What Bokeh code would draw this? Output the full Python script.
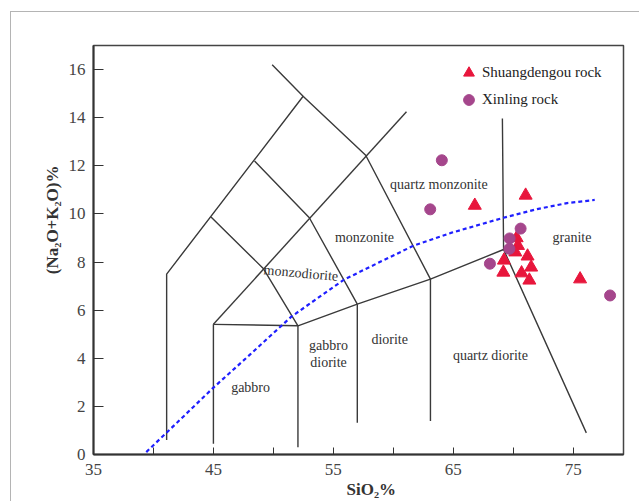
from bokeh.plotting import figure
from bokeh.models import FixedTicker, Legend, LegendItem, Title
from bokeh.core.properties import value
from bokeh.embed import file_html
from bokeh.resources import INLINE

# ---- field boundary polylines (SiO2 %, Na2O+K2O %) ----
bound_x = [
    [41.1, 41.1, 52.5],
    [49.9, 52.5, 57.7, 63.1],
    [45.0, 61.1],
    [48.43, 53.0, 57.0],
    [44.8, 49.18, 52.05],
    [45.0, 52.05],
    [45.0, 45.0],
    [52.05, 52.05],
    [52.05, 57.0, 63.1, 69.2],
    [57.0, 57.0],
    [63.1, 63.1],
    [69.1, 69.2, 76.1],
]
bound_y = [
    [0.6, 7.5, 14.9],
    [16.2, 14.88, 12.44, 7.29],
    [5.41, 14.25],
    [12.2, 9.84, 6.25],
    [9.87, 7.72, 5.35],
    [5.41, 5.35],
    [5.41, 0.45],
    [5.35, 0.3],
    [5.35, 6.25, 7.29, 8.52],
    [6.25, 1.32],
    [7.29, 1.39],
    [13.97, 8.52, 0.9],
]

# ---- alkaline / subalkaline dividing curve ----
curve_x = [39.4, 42.0, 45.0, 48.0, 51.5, 55.9, 59.0, 61.7, 64.8, 69.2, 72.0, 74.5, 76.8]
curve_y = [0.1, 1.34, 2.78, 4.13, 5.73, 7.27, 8.03, 8.68, 9.21, 9.84, 10.2, 10.45, 10.58]

# ---- samples ----
shuang_x = [71.04, 66.8, 70.29, 70.4, 70.18, 69.23, 69.18, 71.2, 71.5, 70.7, 71.35, 75.58]
shuang_y = [10.77, 10.35, 9.0, 8.68, 8.41, 8.07, 7.57, 8.24, 7.78, 7.54, 7.24, 7.29]
xinling_x = [64.05, 63.08, 70.62, 69.7, 69.68, 68.06, 78.08]
xinling_y = [12.23, 10.19, 9.39, 8.98, 8.55, 7.93, 6.61]

# ---- field names ----
field_names = ["quartz monzonite", "monzonite", "monzodiorite", "gabbro",
               "gabbro\ndiorite", "diorite", "quartz diorite", "granite"]
field_x = [63.8, 57.6, 52.3, 48.1, 54.6, 59.7, 68.1, 74.9]
field_y = [11.23, 9.0, 7.54, 2.78, 4.17, 4.8, 4.1, 9.03]
field_angle = [0, 0, -0.09, 0, 0, 0, 0, 0]

x_major = [35, 45, 55, 65, 75]
x_minor = [40, 50, 60, 70]
y_ticks = [0, 2, 4, 6, 8, 10, 12, 14, 16]

SERIF = "Liberation Serif"

p = figure(width=639, height=501, x_range=(35, 79.2), y_range=(0, 17),
           output_backend="svg", toolbar_location=None,
           min_border_left=93, min_border_right=16, min_border_top=45,
           min_border_bottom=47)
p.grid.visible = False
p.outline_line_color = "#444444"
p.outline_line_width = 1.5
p.background_fill_color = "white"
p.border_fill_alpha = 0
# thin grey frame of the original figure panel (top and left edges)
p.styles = {
    "background-color": "white",
    "background-image": "linear-gradient(#b4b4b4, #b4b4b4), linear-gradient(#b4b4b4, #b4b4b4)",
    "background-size": "1px 100%, 100% 1px",
    "background-position": "10px 11px, 10px 11px",
    "background-repeat": "no-repeat",
}

p.multi_line(bound_x, bound_y, line_color="#3a3a3a", line_width=1.4)
p.line(curve_x, curve_y, line_color="#1f1fff", line_width=2.2, line_dash="4 3")

r_sh = p.scatter(shuang_x, shuang_y, marker="triangle", size=13,
                 fill_color="#e8163c", line_color="#e8163c")
r_xl = p.scatter(xinling_x, xinling_y, marker="circle", size=11,
                 fill_color="#a5468c", line_color="#a5468c")

p.text(field_x, field_y, text=field_names, angle=field_angle,
       text_font=value(SERIF), text_font_size="14px", text_color="#333333",
       text_align="center", text_baseline="middle", text_line_height=1.1)

legend = Legend(items=[LegendItem(label="Shuangdengou rock", renderers=[r_sh]),
                       LegendItem(label="Xinling rock", renderers=[r_xl])],
                location=(362, 341), glyph_width=27, glyph_height=27,
                label_height=27, spacing=0, padding=0, margin=0,
                label_standoff=0, border_line_color=None,
                background_fill_alpha=0,
                label_text_font=SERIF, label_text_font_size="15px",
                label_text_color="#222222")
p.add_layout(legend)

for ax in (p.xaxis[0], p.yaxis[0]):
    ax.axis_line_color = "#333333"
    ax.axis_line_width = 2
    ax.major_tick_line_color = "#333333"
    ax.minor_tick_line_color = "#333333"
    ax.major_tick_out = 0
    ax.minor_tick_out = 0
    ax.major_label_text_font = SERIF
    ax.major_label_text_font_size = "17px"
    ax.major_label_text_color = "#444444"

p.xaxis.ticker = FixedTicker(ticks=x_major, minor_ticks=x_minor)
p.xaxis.major_tick_in = 7
p.xaxis.minor_tick_in = 7
p.xaxis.major_label_standoff = 9
p.yaxis.ticker = FixedTicker(ticks=y_ticks, minor_ticks=[])
p.yaxis.major_tick_in = 10
p.yaxis.major_label_standoff = 8

# axis titles
p.add_layout(Title(text="(Na₂O+K₂O)%", align="right", offset=120, standoff=8,
                   text_font=SERIF, text_font_size="17px",
                   text_font_style="bold", text_color="#333333"), "left")
p.add_layout(Title(text="SiO₂%", align="left", offset=253, standoff=0,
                   text_font=SERIF, text_font_size="17px",
                   text_font_style="bold", text_color="#333333"), "below")

open("out.html", "w").write(file_html(p, INLINE))
